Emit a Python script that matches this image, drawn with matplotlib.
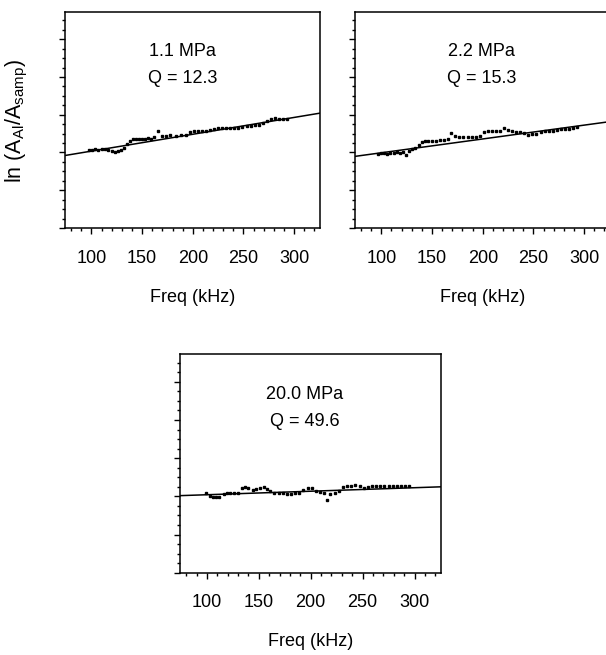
import matplotlib
matplotlib.use("Agg")
import matplotlib.pyplot as plt
from matplotlib.ticker import MultipleLocator, NullFormatter
import numpy as np

plt.rcParams['font.family'] = ['Liberation Sans', 'DejaVu Sans']
plt.rcParams['mathtext.default'] = 'regular'

# panel 1: 1.1 MPa
freq_1 = [98, 101, 104, 107, 110, 113, 116, 120, 123, 126, 129, 132, 135, 138, 141, 144,
          147, 150, 153, 156, 159, 162, 166, 170, 174, 178, 183, 188, 193, 197, 201, 205,
          209, 213, 217, 221, 225, 229, 233, 237, 241, 245, 249, 253, 257, 261, 265, 269,
          273, 277, 281, 285, 289, 293]
ln_ratio_1 = [2.06, 2.07, 2.08, 2.06, 2.08, 2.09, 2.07, 2.04, 2.02, 2.05, 2.06, 2.12, 2.22,
              2.30, 2.36, 2.37, 2.36, 2.37, 2.36, 2.38, 2.37, 2.42, 2.57, 2.44, 2.43, 2.46,
              2.44, 2.46, 2.47, 2.55, 2.57, 2.57, 2.56, 2.58, 2.60, 2.63, 2.64, 2.65, 2.66,
              2.66, 2.65, 2.66, 2.67, 2.71, 2.70, 2.72, 2.74, 2.78, 2.84, 2.88, 2.90, 2.89,
              2.89, 2.88]
fit_1 = (0.00446, 1.59)  # slope, intercept

# panel 2: 2.2 MPa
freq_2 = [97, 100, 103, 106, 109, 112, 115, 118, 121, 124, 127, 130, 133, 137, 140, 143,
          146, 150, 154, 158, 162, 166, 169, 173, 177, 181, 185, 189, 193, 197, 201, 205,
          209, 213, 217, 221, 225, 229, 233, 237, 241, 245, 249, 253, 257, 261, 265, 269,
          273, 277, 281, 285, 289, 293]
ln_ratio_2 = [1.97, 1.98, 1.98, 1.97, 1.99, 1.98, 2.00, 1.99, 2.00, 1.93, 2.05, 2.08, 2.12,
              2.20, 2.28, 2.30, 2.31, 2.30, 2.31, 2.32, 2.32, 2.36, 2.52, 2.44, 2.42, 2.41,
              2.41, 2.41, 2.42, 2.44, 2.54, 2.56, 2.56, 2.56, 2.57, 2.66, 2.60, 2.56, 2.55,
              2.55, 2.52, 2.47, 2.49, 2.50, 2.53, 2.56, 2.57, 2.58, 2.59, 2.61, 2.62, 2.63,
              2.66, 2.68]
fit_2 = (0.00366, 1.626)

# panel 3: 20.0 MPa
freq_3 = [99, 103, 106, 109, 112, 116, 119, 122, 126, 130, 134, 137, 140, 144, 147, 151,
          155, 158, 161, 165, 169, 173, 177, 181, 185, 189, 193, 197, 201, 205, 209, 213,
          216, 219, 223, 227, 231, 235, 239, 243, 247, 251, 255, 259, 263, 267, 271, 275,
          279, 283, 287, 291, 295]
ln_ratio_3 = [2.09, 2.00, 1.98, 1.99, 1.98, 2.06, 2.09, 2.08, 2.09, 2.09, 2.22, 2.24, 2.23,
              2.16, 2.20, 2.22, 2.24, 2.20, 2.15, 2.09, 2.10, 2.09, 2.07, 2.06, 2.08, 2.08,
              2.17, 2.21, 2.22, 2.14, 2.11, 2.09, 1.90, 2.05, 2.09, 2.15, 2.25, 2.28, 2.28,
              2.29, 2.27, 2.22, 2.24, 2.26, 2.27, 2.28, 2.28, 2.28, 2.28, 2.28, 2.28, 2.28,
              2.28]
fit_3 = (0.00092, 1.951)

pressures = ["1.1 MPa", "2.2 MPa", "20.0 MPa"]
q_labels = ["Q = 12.3", "Q = 15.3", "Q = 49.6"]
xticks = [100, 150, 200, 250, 300]


def draw_panel(ax, freq, vals, fit, pressure, qlab, tx):
    f_line = np.array([74, 326])
    ax.plot(f_line, fit[0] * f_line + fit[1], color="black", lw=1.1)
    ax.plot(freq, vals, ls="none", marker="s", ms=1.8, color="black")
    ax.set_xlim(74, 325.5)
    ax.set_ylim(0, 5.72)
    ax.set_xticks(xticks)
    ax.xaxis.set_minor_locator(MultipleLocator(10))
    ax.yaxis.set_major_locator(MultipleLocator(1))
    ax.yaxis.set_minor_locator(MultipleLocator(0.25))
    ax.yaxis.set_major_formatter(NullFormatter())
    ax.tick_params(which="both", direction="out", top=False, right=False,
                   width=1.0, labelsize=13, pad=11)
    ax.tick_params(which="major", length=4.5)
    ax.tick_params(which="minor", length=2.5)
    for s in ax.spines.values():
        s.set_linewidth(1.1)
    ax.set_xlabel("Freq (kHz)", fontsize=13, labelpad=16)
    ax.text(tx, 0.816, pressure, transform=ax.transAxes, ha="center", va="center", fontsize=13)
    ax.text(tx, 0.694, qlab, transform=ax.transAxes, ha="center", va="center", fontsize=13)


fig = plt.figure(figsize=(6.06, 6.55), dpi=100)
ax1 = fig.add_axes([0.1073, 0.6519, 0.4208, 0.3298])
ax2 = fig.add_axes([0.5858, 0.6519, 0.4208, 0.3298])
ax3 = fig.add_axes([0.2970, 0.1256, 0.4307, 0.3334])

draw_panel(ax1, freq_1, ln_ratio_1, fit_1, pressures[0], q_labels[0], 0.46)
draw_panel(ax2, freq_2, ln_ratio_2, fit_2, pressures[1], q_labels[1], 0.497)
draw_panel(ax3, freq_3, ln_ratio_3, fit_3, pressures[2], q_labels[2], 0.477)

# y label sits far left of the first panel
fig.text(17 / 606, 1 - 121 / 655, "ln (A$_{Al}$/A$_{samp}$)", rotation=90,
         ha="center", va="center", fontsize=15.5)

fig.savefig("out.png", dpi=100)
